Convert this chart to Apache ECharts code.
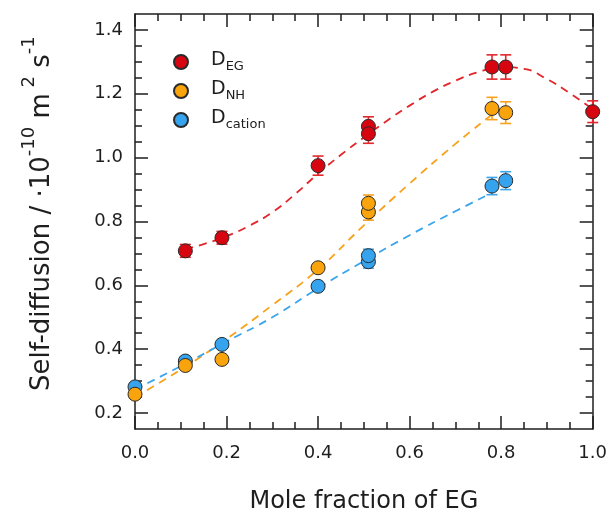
<!DOCTYPE html>
<html><head><meta charset="utf-8">
<script src="https://cdn.jsdelivr.net/npm/echarts@6/dist/echarts.min.js"></script>
<style>html,body{margin:0;padding:0;background:#fff}#c{width:610px;height:519px}</style>
</head><body><div id="c"></div>
<script>
// ---- data ----
const xEG   = [0.11, 0.19, 0.40, 0.51, 0.51, 0.78, 0.81, 1.00];
const dEG   = [0.708, 0.749, 0.975, 1.098, 1.075, 1.284, 1.284, 1.144];
const errEG = [0.020, 0.020, 0.030, 0.030, 0.030, 0.038, 0.038, 0.034];

const xNH   = [0.00, 0.11, 0.19, 0.40, 0.51, 0.51, 0.78, 0.81];
const dNH   = [0.259, 0.349, 0.368, 0.655, 0.830, 0.857, 1.154, 1.141];
const errNH = [0.010, 0.010, 0.010, 0.010, 0.026, 0.026, 0.035, 0.034];

const xCat   = [0.00, 0.11, 0.19, 0.40, 0.51, 0.51, 0.78, 0.81];
const dCat   = [0.282, 0.363, 0.415, 0.597, 0.674, 0.693, 0.911, 0.928];
const errCat = [0.010, 0.010, 0.010, 0.010, 0.020, 0.020, 0.027, 0.028];

// dashed fit curves
const fitEGx = [0.11, 0.15, 0.20, 0.25, 0.30, 0.35, 0.40, 0.45, 0.50, 0.55, 0.60, 0.65, 0.70, 0.75, 0.80, 0.85, 0.90, 0.95, 1.00];
const fitEGy = [0.714, 0.729, 0.754, 0.787, 0.829, 0.886, 0.950, 1.009, 1.063, 1.115, 1.163, 1.206, 1.241, 1.268, 1.284, 1.278, 1.246, 1.202, 1.152];
const fitNHx = [0.00, 0.10, 0.20, 0.30, 0.40, 0.50, 0.60, 0.70, 0.78];
const fitNHy = [0.250, 0.336, 0.432, 0.538, 0.650, 0.788, 0.919, 1.043, 1.135];
const fitCatx = [0.00, 0.10, 0.20, 0.30, 0.40, 0.50, 0.60, 0.70, 0.78];
const fitCaty = [0.274, 0.347, 0.424, 0.500, 0.591, 0.676, 0.757, 0.832, 0.890];

// axis ticks
const xMajor = [0, 0.2, 0.4, 0.6, 0.8, 1.0];
const xMinor = [0.05, 0.1, 0.15, 0.25, 0.3, 0.35, 0.45, 0.5, 0.55, 0.65, 0.7, 0.75, 0.85, 0.9, 0.95];
const yMajor = [0.2, 0.4, 0.6, 0.8, 1.0, 1.2, 1.4];
const yMinor = [0.25, 0.3, 0.35, 0.45, 0.5, 0.55, 0.65, 0.7, 0.75, 0.85, 0.9, 0.95, 1.05, 1.1, 1.15, 1.25, 1.3, 1.35];

// ---- styling ----
const INK = '#1e1e1e';
const FONT = 'DejaVu Sans';
const RED = '#d7050f', ORANGE = '#f9a40c', BLUE = '#36a3ef';
const RED_L = '#e3262b', ORANGE_L = '#f7a21c', BLUE_L = '#3aa5ec';

function zip(a, b) { return a.map((v, i) => [v, b[i]]); }
function errData(xs, ys, es) { return xs.map((x, i) => [x, ys[i] - es[i], ys[i] + es[i]]); }

function mkX(pos, vals, len, line, label) {
  return {
    type: 'value', min: 0, max: 1, position: pos,
    axisLine: { show: line, onZero: false, lineStyle: { color: INK, width: 1.5 } },
    axisTick: { show: true, inside: true, length: len, customValues: vals, lineStyle: { color: INK, width: 1.5 } },
    axisLabel: { show: label, customValues: vals, formatter: v => v.toFixed(1), margin: 15,
      fontSize: 18, fontFamily: FONT, color: INK },
    splitLine: { show: false }
  };
}
function mkY(pos, vals, len, line, label) {
  return {
    type: 'value', min: 0.15, max: 1.45, position: pos,
    axisLine: { show: line, onZero: false, lineStyle: { color: INK, width: 1.5 } },
    axisTick: { show: true, inside: true, length: len, customValues: vals, lineStyle: { color: INK, width: 1.5 } },
    axisLabel: { show: label, customValues: vals, formatter: v => v.toFixed(1), margin: 12,
      fontSize: 18, fontFamily: FONT, color: INK },
    splitLine: { show: false }
  };
}

const xAxes = [
  mkX('bottom', xMajor, 13, true, true),
  mkX('bottom', xMinor, 7, false, false),
  mkX('top', xMajor, 13, true, false),
  mkX('top', xMinor, 7, false, false)
];
Object.assign(xAxes[0], {
  name: 'Mole fraction of EG', nameLocation: 'middle', nameGap: 61,
  nameTextStyle: { fontSize: 24, fontFamily: FONT, color: INK }
});
const yAxes = [
  mkY('left', yMajor, 13, true, true),
  mkY('left', yMinor, 7, false, false),
  mkY('right', yMajor, 13, true, false),
  mkY('right', yMinor, 7, false, false)
];

function errSeries(name, data, color) {
  return {
    type: 'custom', name: name + '_err', z: 3, silent: true,
    data: data, encode: { x: 0, y: [1, 2] },
    renderItem: function (params, api) {
      const x = api.value(0);
      const lo = api.coord([x, api.value(1)]);
      const hi = api.coord([x, api.value(2)]);
      const w = 5.5;
      const st = { stroke: color, lineWidth: 1.6 };
      return { type: 'group', children: [
        { type: 'line', shape: { x1: hi[0], y1: hi[1], x2: lo[0], y2: lo[1] }, style: st },
        { type: 'line', shape: { x1: hi[0] - w, y1: hi[1], x2: hi[0] + w, y2: hi[1] }, style: st },
        { type: 'line', shape: { x1: lo[0] - w, y1: lo[1], x2: lo[0] + w, y2: lo[1] }, style: st }
      ]};
    }
  };
}
function fitSeries(name, xs, ys, color) {
  return {
    type: 'line', name: name + '_fit', z: 2, silent: true, smooth: 0.5,
    showSymbol: false, symbol: 'none', data: zip(xs, ys),
    lineStyle: { color: color, width: 1.8, type: [8, 6] }
  };
}
function ptSeries(name, xs, ys, color) {
  return {
    type: 'scatter', name: name, z: 5, symbol: 'circle', symbolSize: 14,
    data: zip(xs, ys),
    itemStyle: { color: color, borderColor: '#2a2a2a', borderWidth: 1, opacity: 1 }
  };
}

const legendNames = { 'D_EG': 'EG', 'D_NH': 'NH', 'D_cation': 'cation' };

const option = {
  backgroundColor: '#ffffff',
  animation: false,
  grid: { left: 135, right: 17, top: 14, bottom: 80, containLabel: false },
  xAxis: xAxes,
  yAxis: yAxes,
  legend: {
    data: ['D_EG', 'D_NH', 'D_cation'],
    orient: 'vertical', left: 173, top: 51, padding: 0,
    itemWidth: 14, itemHeight: 14, itemGap: 7, icon: 'circle',
    formatter: n => '{g| }{d|D}{s|' + legendNames[n] + '}',
    textStyle: {
      color: INK, fontFamily: FONT,
      rich: {
        g: { width: 18, lineHeight: 22, fontSize: 12 },
        d: { fontSize: 19, lineHeight: 20, verticalAlign: 'top', fontFamily: FONT, color: INK },
        s: { fontSize: 13, lineHeight: 13, verticalAlign: 'bottom', fontFamily: FONT, color: INK }
      }
    }
  },
  graphic: [{
    type: 'text', x: 38, y: 213, rotation: Math.PI / 2, silent: true,
    style: {
      text: '{b|Self-diffusion / ·10}{s|-10}{b| m}{s| 2}{b| s}{s|-1}{p| }',
      align: 'center', verticalAlign: 'middle',
      fill: INK, fontFamily: FONT,
      rich: {
        b: { fontSize: 26, lineHeight: 26, verticalAlign: 'bottom', fontFamily: FONT, fill: INK },
        s: { fontSize: 18, lineHeight: 18, verticalAlign: 'top', fontFamily: FONT, fill: INK },
        p: { fontSize: 4, lineHeight: 35, fontFamily: FONT, fill: INK }
      }
    }
  }],
  series: [
    fitSeries('D_EG', fitEGx, fitEGy, RED_L),
    fitSeries('D_NH', fitNHx, fitNHy, ORANGE_L),
    fitSeries('D_cation', fitCatx, fitCaty, BLUE_L),
    errSeries('D_EG', errData(xEG, dEG, errEG), RED_L),
    errSeries('D_NH', errData(xNH, dNH, errNH), ORANGE_L),
    errSeries('D_cation', errData(xCat, dCat, errCat), BLUE_L),
    ptSeries('D_EG', xEG, dEG, RED),
    ptSeries('D_cation', xCat, dCat, BLUE),
    ptSeries('D_NH', xNH, dNH, ORANGE)
  ]
};
const chart = echarts.init(document.getElementById('c'), null, { renderer: 'canvas' });
chart.setOption(option);
</script>
</body></html>
